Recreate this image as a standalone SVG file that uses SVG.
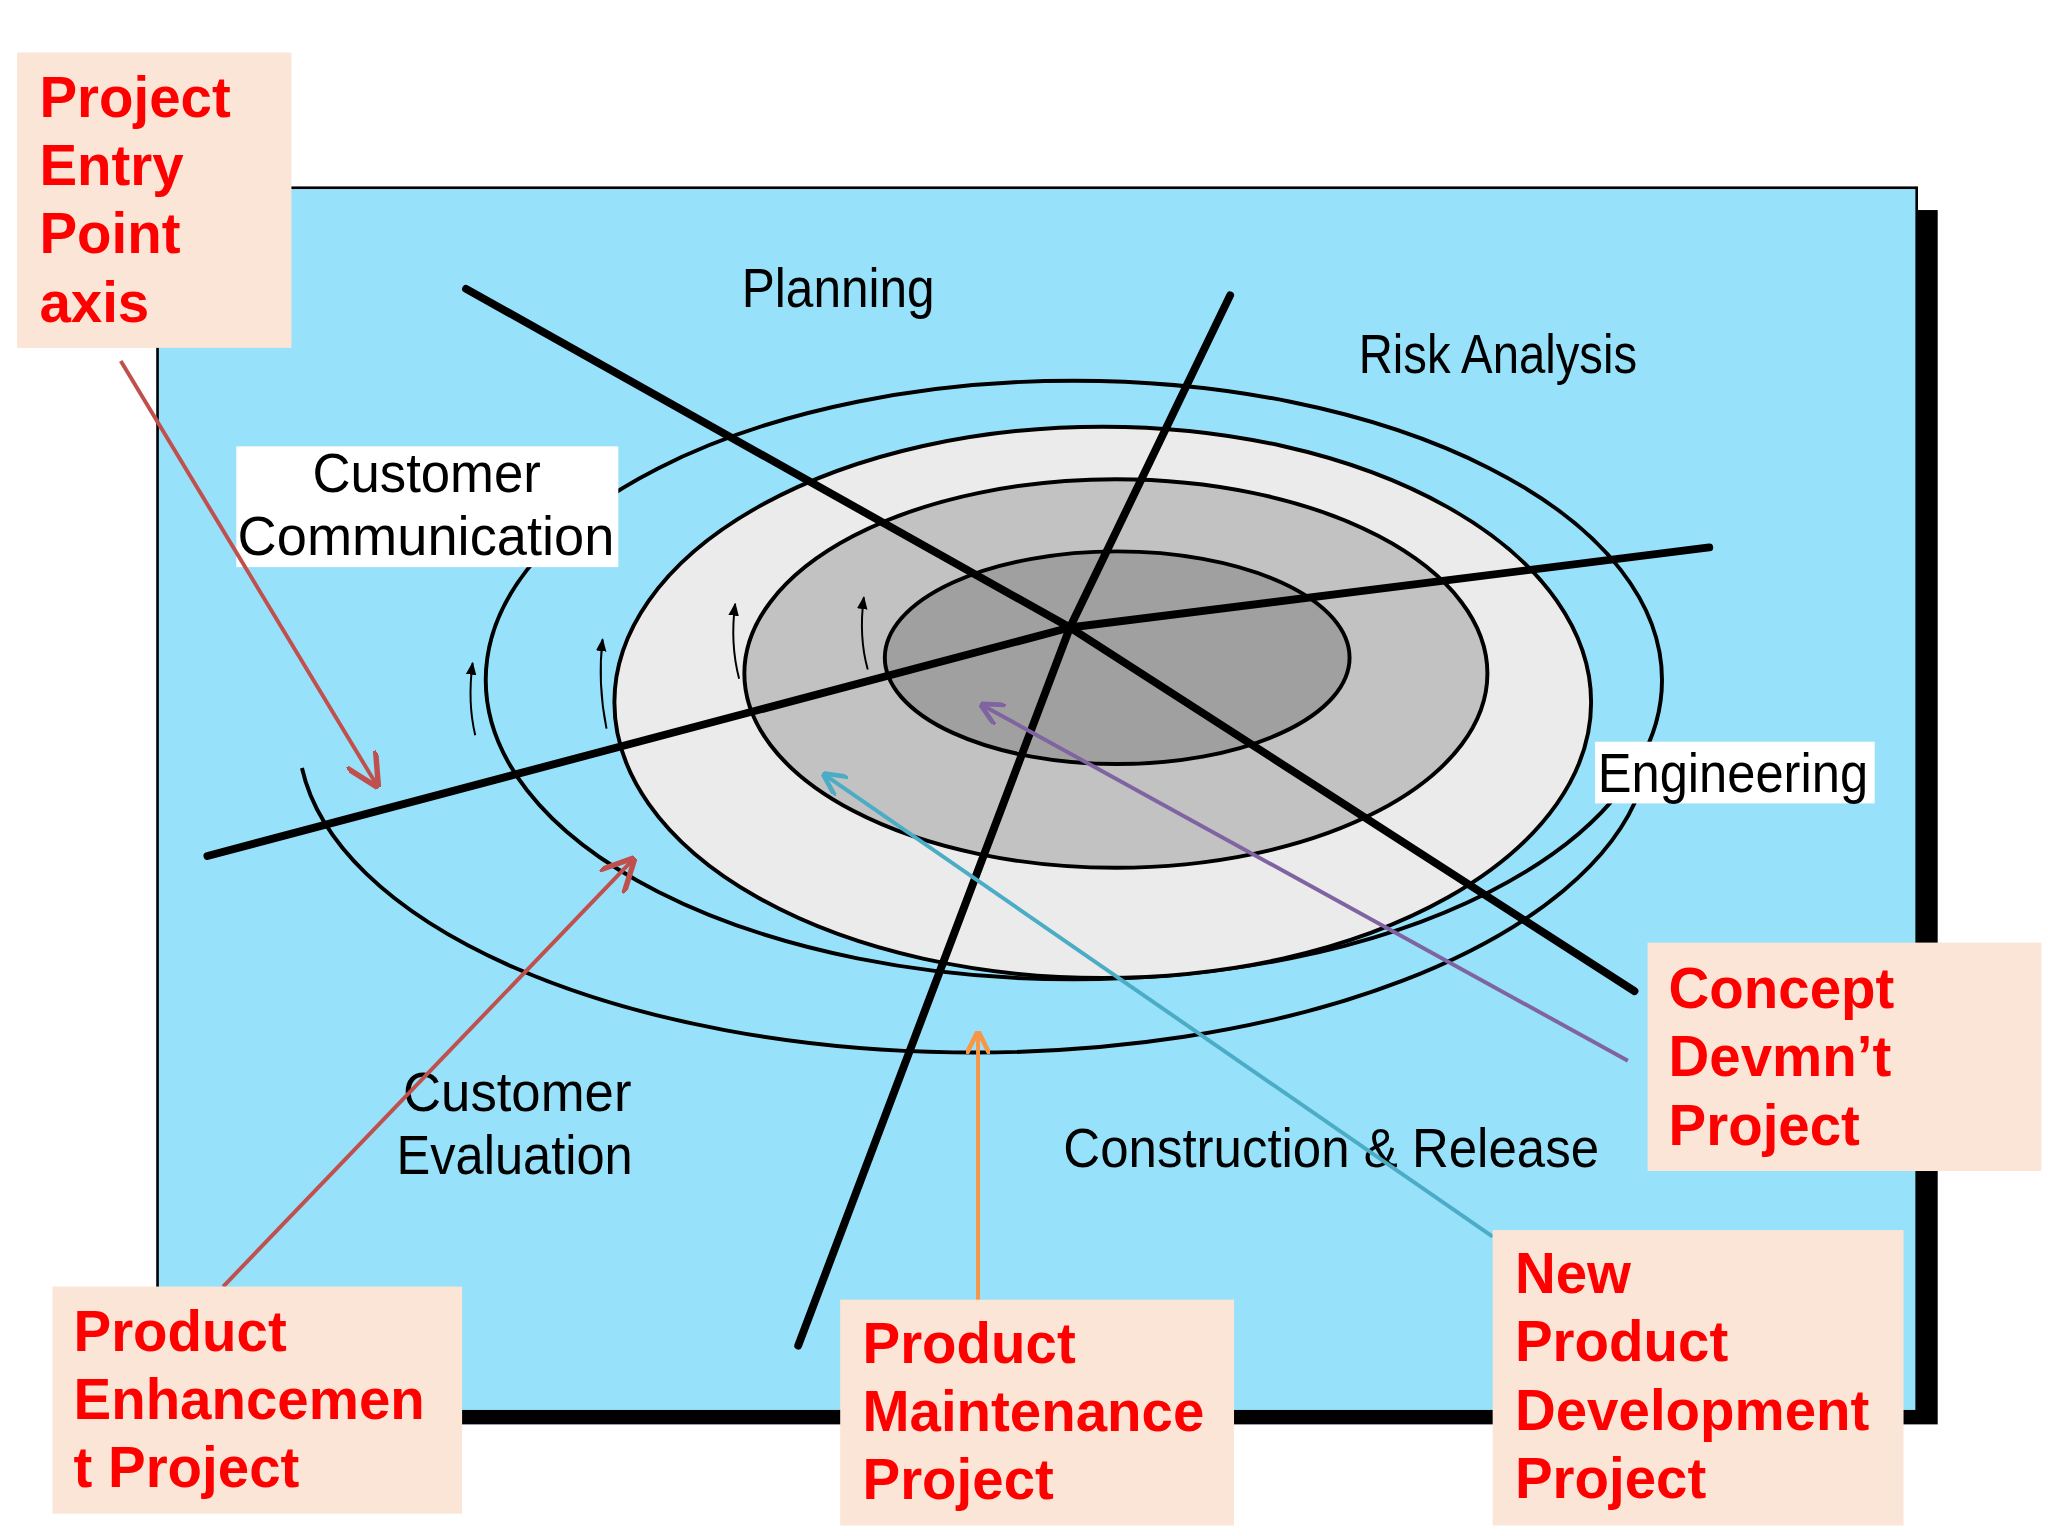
<svg xmlns="http://www.w3.org/2000/svg" width="2048" height="1536" viewBox="0 0 2048 1536">
<defs>
<style>
.lbl{font-family:"Liberation Sans",Arial,sans-serif;font-size:42px;fill:#000}
.box{fill:#fbe5d6}
.bt{font-family:"Liberation Sans",Arial,sans-serif;font-size:43px;font-weight:bold;fill:#ff0000}
.ax{stroke:#000;stroke-width:6;stroke-linecap:round;stroke-linejoin:round;fill:none}
.ring{stroke:#000;stroke-width:3}
</style>
<marker id="mo" viewBox="0 0 10 10" refX="9" refY="5" markerWidth="18" markerHeight="18" orient="auto" markerUnits="userSpaceOnUse"><path d="M0,0 L10,5 L0,10" fill="none" stroke="#f79646" stroke-width="2"/></marker>
<marker id="mt" viewBox="0 0 10 10" refX="9" refY="5" markerWidth="18" markerHeight="18" orient="auto" markerUnits="userSpaceOnUse"><path d="M0,0 L10,5 L0,10" fill="none" stroke="#4bacc6" stroke-width="2"/></marker>
<marker id="mp" viewBox="0 0 10 10" refX="9" refY="5" markerWidth="18" markerHeight="18" orient="auto" markerUnits="userSpaceOnUse"><path d="M0,0 L10,5 L0,10" fill="none" stroke="#8064a2" stroke-width="2"/></marker>
<marker id="mk" viewBox="0 0 10 10" refX="9" refY="5" markerWidth="10" markerHeight="10" orient="auto" markerUnits="userSpaceOnUse"><path d="M0,1 L10,5 L0,9 z" fill="#000"/></marker>
<marker id="mr2" viewBox="0 0 10 10" refX="9" refY="5" markerWidth="26" markerHeight="26" orient="auto" markerUnits="userSpaceOnUse"><path d="M0,0 L10,5 L0,10" fill="none" stroke="#c0504d" stroke-width="1.6"/></marker>
</defs>
<rect width="2048" height="1536" fill="#fff"/>
<g transform="scale(1.3128)">
<g id="background">
<rect x="136" y="160" width="1340" height="925" fill="#000"/>
<rect x="120" y="143" width="1340" height="932" fill="#97e1fa" stroke="#000" stroke-width="2"/>
</g>
<g id="spiral">
<path d="M230,585 A515,242 0 0 0 1250,600" fill="none" class="ring"/>
<ellipse cx="818" cy="518" rx="448" ry="228" fill="none" class="ring"/>
<ellipse cx="840" cy="535" rx="372" ry="210" fill="#ebebeb" class="ring"/>
<ellipse cx="850" cy="513" rx="283" ry="148" fill="#c2c2c2" class="ring"/>
<ellipse cx="851" cy="501" rx="177" ry="81" fill="#a0a0a0" class="ring"/>
<g fill="none" stroke="#000" stroke-width="1.5">
<path d="M362,560 Q356,535 360,505" marker-end="url(#mk)"/>
<path d="M462,555 Q455,520 459,487" marker-end="url(#mk)"/>
<path d="M563,517 Q556,490 560,460" marker-end="url(#mk)"/>
<path d="M661,510 Q654,485 658,455" marker-end="url(#mk)"/>
</g>
</g>
<g id="axes">
<polyline class="ax" points="355,220 815,478 1245,755"/>
<polyline class="ax" points="937,225 815,478 608,1025"/>
<polyline class="ax" points="158,652 815,478 1302,417"/>
</g>
<g id="phase-labels">
<text class="lbl" x="565" y="234" textLength="147" lengthAdjust="spacingAndGlyphs">Planning</text>
<text class="lbl" x="1035" y="284" textLength="212" lengthAdjust="spacingAndGlyphs">Risk Analysis</text>
<rect x="180" y="340" width="291" height="92" fill="#fff"/>
<text class="lbl" x="238" y="375" textLength="174" lengthAdjust="spacingAndGlyphs">Customer</text>
<text class="lbl" x="181" y="423" textLength="287" lengthAdjust="spacingAndGlyphs">Communication</text>
<rect x="1215" y="565" width="213" height="47" fill="#fff"/>
<text class="lbl" x="1217" y="603" textLength="206" lengthAdjust="spacingAndGlyphs">Engineering</text>
<text class="lbl" x="307" y="846" textLength="174" lengthAdjust="spacingAndGlyphs">Customer</text>
<text class="lbl" x="302" y="894" textLength="180" lengthAdjust="spacingAndGlyphs">Evaluation</text>
<text class="lbl" x="810" y="889" textLength="408" lengthAdjust="spacingAndGlyphs">Construction &amp; Release</text>
</g>
<g id="connectors" fill="none" stroke-width="3">
<line x1="92" y1="275" x2="287" y2="598" stroke="#c0504d" marker-end="url(#mr2)"/>
<line x1="170" y1="980" x2="482" y2="655" stroke="#c0504d" marker-end="url(#mr2)"/>
<line x1="745" y1="992" x2="745" y2="787" stroke="#f79646" marker-end="url(#mo)"/>
<line x1="1137" y1="942" x2="628" y2="590" stroke="#4bacc6" marker-end="url(#mt)"/>
<line x1="1240" y1="808" x2="748" y2="537" stroke="#8064a2" marker-end="url(#mp)"/>
</g>
<g id="entry-axis">
<rect class="box" x="13" y="40" width="209" height="225"/>
<text class="bt" x="30" y="89">Project</text><text class="bt" x="30" y="141">Entry</text><text class="bt" x="30" y="193">Point</text><text class="bt" x="30" y="245">axis</text>
</g>
<g id="enhancement">
<rect class="box" x="40" y="980" width="312" height="173"/>
<text class="bt" x="56" y="1029">Product</text><text class="bt" x="56" y="1081">Enhancemen</text><text class="bt" x="56" y="1133">t Project</text>
</g>
<g id="maintenance">
<rect class="box" x="640" y="990" width="300" height="172"/>
<text class="bt" x="657" y="1038">Product</text><text class="bt" x="657" y="1090">Maintenance</text><text class="bt" x="657" y="1142">Project</text>
</g>
<g id="new-product">
<rect class="box" x="1137" y="937" width="313" height="225"/>
<text class="bt" x="1154" y="985">New</text><text class="bt" x="1154" y="1037">Product</text><text class="bt" x="1154" y="1089">Development</text><text class="bt" x="1154" y="1141">Project</text>
</g>
<g id="concept">
<rect class="box" x="1255" y="718" width="300" height="174"/>
<text class="bt" x="1271" y="768">Concept</text><text class="bt" x="1271" y="820">Devmn’t</text><text class="bt" x="1271" y="872">Project</text>
</g>
</g>
</svg>
